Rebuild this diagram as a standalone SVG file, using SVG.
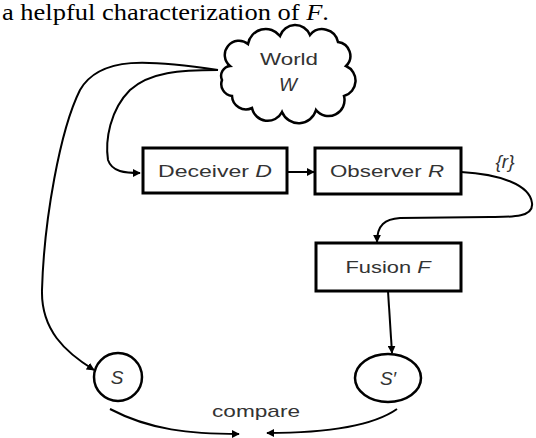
<svg xmlns="http://www.w3.org/2000/svg" width="536" height="438" viewBox="0 0 536 438">
<style>
.box{fill:#fff;stroke:#000;stroke-width:3}
.node{fill:#fff;stroke:#000;stroke-width:2.5}
.lbl{font-family:"Liberation Sans","DejaVu Sans",sans-serif;font-size:17px;fill:#333;text-anchor:middle}
.it{font-style:italic}
.big{font-size:19px}
.title{font-family:"Liberation Serif",serif;font-size:24px;fill:#000}
.conn path{fill:none;stroke:#000;stroke-width:2}
</style>
<defs>
<marker id="ah" viewBox="0 0 10 10" refX="9" refY="5" markerWidth="4" markerHeight="4" orient="auto" markerUnits="strokeWidth">
<path d="M0 0 L10 5 L0 10 Z" fill="#000"/>
</marker>
</defs>
<rect width="536" height="438" fill="#fff"/>
<text class="title" x="2" y="20" textLength="327" lengthAdjust="spacingAndGlyphs">a helpful characterization of <tspan font-style="italic">F</tspan>.</text>

<g id="world">
<path class="node" stroke-width="3" d="M 230 66 A 14 14 0 0 1 248 44 A 18 18 0 0 1 280 36 A 16 16 0 0 1 310 35 A 16 16 0 0 1 338 42 A 14 14 0 0 1 346 66 A 16 16 0 0 1 344 96 A 16 16 0 0 1 316 110 A 18 18 0 0 1 282 112 A 16 16 0 0 1 252 108 A 14 14 0 0 1 232 96 A 12 12 0 0 1 222 80 A 10 10 0 0 1 230 66 Z"/>
<text class="lbl" x="289" y="65" textLength="58" lengthAdjust="spacingAndGlyphs">World</text>
<text class="lbl it big" x="288" y="91">W</text>
</g>

<g id="deceiver">
<rect class="box" x="143" y="148" width="144" height="45"/>
<text class="lbl" x="215" y="177" textLength="114" lengthAdjust="spacingAndGlyphs">Deceiver <tspan class="it">D</tspan></text>
</g>

<g id="observer">
<rect class="box" x="315" y="148" width="146" height="46"/>
<text class="lbl" x="387" y="177" textLength="114" lengthAdjust="spacingAndGlyphs">Observer <tspan class="it">R</tspan></text>
</g>

<g id="fusion">
<rect class="box" x="316" y="243" width="145" height="48"/>
<text class="lbl" x="388" y="273" textLength="85" lengthAdjust="spacingAndGlyphs">Fusion <tspan class="it">F</tspan></text>
</g>

<g id="s">
<circle class="node" cx="118" cy="377" r="24"/>
<text class="lbl it big" x="117" y="384">S</text>
</g>

<g id="s-prime">
<ellipse class="node" cx="388" cy="378" rx="33" ry="24"/>
<text class="lbl it big" x="388" y="385">S′</text>
</g>

<g class="conn">
<path d="M 218 70 C 150 60, 100 55, 80 90 C 60 130, 44 220, 42 290 C 41 330, 65 352, 94 370" marker-end="url(#ah)"/>
<path d="M 218 70 C 180 70, 150 72, 130 90 C 110 110, 105 140, 108 160 C 112 172, 125 173, 140 173" marker-end="url(#ah)"/>
<path d="M 287 172 L 314 172" marker-end="url(#ah)"/>
<path d="M 461 172 C 500 174, 530 185, 532 203 C 534 218, 510 217, 490 217 L 400 218 C 385 219, 377 225, 377 242" marker-end="url(#ah)"/>
<path d="M 388 291 L 392 353" marker-end="url(#ah)"/>
<path d="M 110 409 C 150 430, 190 434, 239 434" marker-end="url(#ah)"/>
<path d="M 397 409 C 370 428, 320 433, 267 433" marker-end="url(#ah)"/>
</g>
<text class="lbl it big" x="505" y="168">{r}</text>
<text class="lbl" x="256" y="417" textLength="88" lengthAdjust="spacingAndGlyphs">compare</text>
</svg>
